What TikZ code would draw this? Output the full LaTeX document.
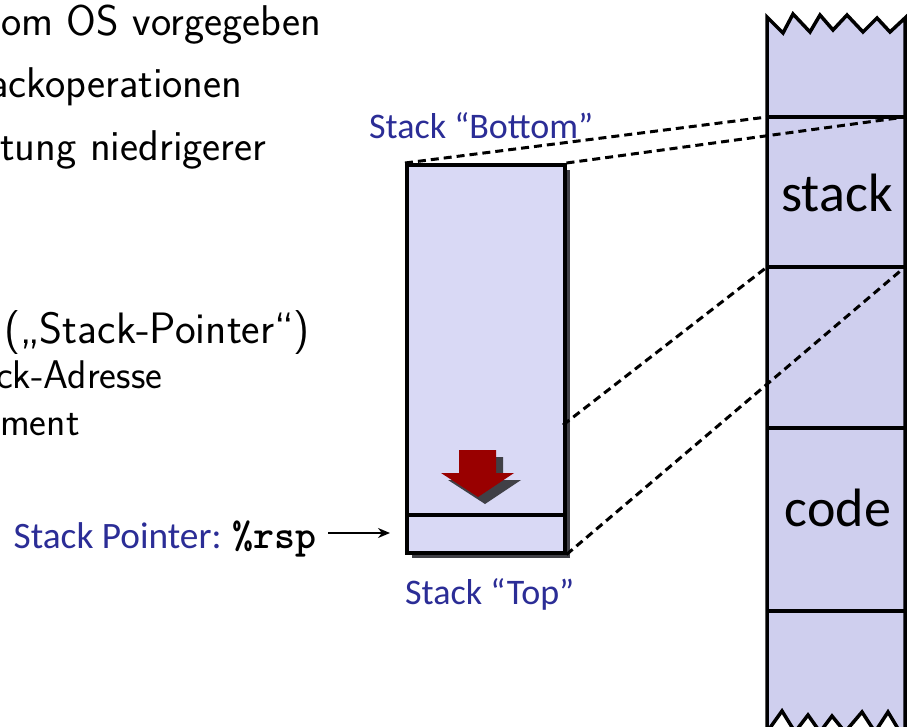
\documentclass[tikz,border=0pt]{standalone}
\usepackage{fontspec}
\newfontfamily\calib{Carlito}
\newfontfamily\monob{lmmonolt10-bold.otf}
\usetikzlibrary{arrows.meta}
\definecolor{lblblue}{RGB}{43,45,150}
\definecolor{boxfill}{RGB}{217,217,245}
\definecolor{memfill}{RGB}{207,207,238}
\definecolor{arrred}{RGB}{153,0,0}
\definecolor{shadowgray}{RGB}{64,64,70}
\tikzset{
  bodytext/.style={anchor=base west, inner sep=0pt, font=\sffamily\fontsize{43}{52}\selectfont},
  subtext/.style={anchor=base west, inner sep=0pt, font=\sffamily\fontsize{40}{48}\selectfont},
  bluelabel/.style={inner sep=0pt, text=lblblue, font=\calib\fontsize{36}{43}\selectfont},
  memlabel/.style={inner sep=0pt, font=\calib\fontsize{54}{64}\selectfont},
  mapline/.style={dashed, dash pattern=on 8pt off 5pt, line width=3pt},
  outline/.style={line width=3.5pt},
  ptrarrow/.style={line width=2.2pt, -{Stealth[length=12pt,width=10pt]}},
}
\begin{document}
\begin{tikzpicture}[x=1pt,y=-1pt]
\useasboundingbox (0,0) rectangle (908,726);
% left text
\node[bodytext] (t1) at (1,35) {om OS vorgegeben};
\node[bodytext] (t2) at (-11,97) {ackoperationen};
\node[bodytext] (t3) at (0,160) {tung niedrigerer};
\node[bodytext, font=\sffamily\fontsize{44}{52}\selectfont] (t5) at (4,343) {(„Stack-Pointer“)};
\node[subtext] (t6) at (-4,388) {ck-Adresse};
\node[subtext] (t7) at (0,435) {ment};
% memory column
\fill[memfill] (767,17) -- (783,33) -- (793,14) -- (810,32) -- (820,15) -- (833,30) -- (847,15) -- (863,32) -- (877,18) -- (890,32) -- (905,18)
  -- (905,732) -- (900,732) -- (888,712) -- (875,732) -- (862,712) -- (845,732) -- (832,716) -- (820,732) -- (808,715) -- (795,732) -- (782,711) -- (767,732) -- cycle;
\draw[outline, line join=miter] (767,732) -- (767,17) -- (783,33) -- (793,14) -- (810,32) -- (820,15) -- (833,30) -- (847,15) -- (863,32) -- (877,18) -- (890,32) -- (905,18) -- (905,732);
\draw[outline] (767,732) -- (782,711) -- (795,732) (795,732) -- (808,715) -- (820,732) (820,732) -- (832,716) -- (845,732) (845,732) -- (862,712) -- (875,732) (875,732) -- (888,712) -- (900,732);
\coordinate (m1l) at (767,117);
\coordinate (m1r) at (905,117);
\coordinate (m2l) at (767,267);
\coordinate (m2r) at (905,267);
\coordinate (m3l) at (767,428);
\coordinate (m3r) at (905,428);
\coordinate (m4l) at (767,611);
\coordinate (m4r) at (905,611);
\draw[outline] (m1l) -- (m1r) (m2l) -- (m2r) (m3l) -- (m3r) (m4l) -- (m4r);
\node[memlabel] (stacktxt) at (837,193) {stack};
\node[memlabel] (codetxt) at (838,508) {code};
% stack box with shadow
\fill[shadowgray] (412,170) rectangle (570,558);
\node[draw, outline, fill=boxfill, minimum width=158pt, minimum height=388pt, inner sep=0pt, anchor=north west] (stk) at (405,163) {};
\coordinate (inner) at (405,515);
\draw[outline] (inner) -- (inner -| stk.east);
% red arrow with shadow
\fill[shadowgray] (466,457) -- (503,457) -- (503,480) -- (521,480) -- (485,504) -- (448,480) -- (466,480) -- cycle;
\fill[arrred] (459,450) -- (496,450) -- (496,473) -- (514,473) -- (478,497) -- (441,473) -- (459,473) -- cycle;
% labels
\node[bluelabel, anchor=base west] (bottom) at (369,138) {Stack “Bottom”};
\node[bluelabel, anchor=base west] (top) at (405,604) {Stack “Top”};
\node[bluelabel, anchor=base east, font=\calib\fontsize{37.3}{45}\selectfont] (sp) at (317,548) {Stack Pointer: {\monob\fontsize{40}{48}\selectfont\color{black}\%rsp}};
\coordinate (ptrstart) at (328,533);
\coordinate (ptrend) at (390,533);
\draw[ptrarrow] (ptrstart) -- (ptrend);
% mapping lines
\coordinate (s1) at (563,425);
\draw[mapline] (stk.north west) -- (m1l);
\draw[mapline] (stk.north east) -- (m1r);
\draw[mapline] (s1) -- (m2l);
\draw[mapline] (stk.south east) -- (m2r);
\end{tikzpicture}
\end{document}
